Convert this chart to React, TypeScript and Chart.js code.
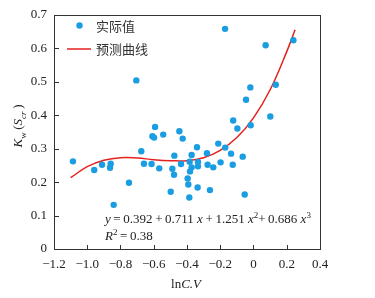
import React, { useEffect, useRef } from "react";
import { Chart, registerables } from "chart.js";

Chart.register(...registerables);

// Measured points: lnC.V (x) and Kw(Scr) (y)
const lnCV = [
  -1.086, -0.958, -0.911, -0.859, -0.863, -0.841, -0.749, -0.705, -0.675, -0.659,
  -0.613, -0.608, -0.598, -0.592, -0.567, -0.543, -0.498, -0.488, -0.478, -0.476,
  -0.446, -0.436, -0.426, -0.396, -0.392, -0.386, -0.384, -0.382, -0.372, -0.372,
  -0.34, -0.336, -0.334, -0.334, -0.28, -0.276, -0.262, -0.242, -0.212, -0.198,
  -0.171, -0.17, -0.135, -0.125, -0.122, -0.097, -0.065, -0.053, -0.045, -0.019,
  -0.017, 0.073, 0.101, 0.134, 0.24,
];
const kwValues = [
  0.262, 0.236, 0.252, 0.255, 0.243, 0.132, 0.198, 0.504, 0.292, 0.255,
  0.254, 0.337, 0.333, 0.365, 0.241, 0.342, 0.171, 0.24, 0.222, 0.279,
  0.352, 0.254, 0.33, 0.211, 0.193, 0.154, 0.261, 0.232, 0.244, 0.281,
  0.304, 0.184, 0.26, 0.247, 0.286, 0.252, 0.176, 0.244, 0.315, 0.259,
  0.658, 0.303, 0.285, 0.252, 0.384, 0.36, 0.276, 0.163, 0.446, 0.483,
  0.37, 0.609, 0.396, 0.491, 0.624,
];

// Fitted curve
const curveX = [-1.1, -1.0, -0.9, -0.8, -0.7, -0.6, -0.5, -0.4, -0.3, -0.2, -0.1, 0.0, 0.1, 0.2, 0.25];
const curveY = [0.213, 0.246, 0.265, 0.273, 0.272, 0.267, 0.264, 0.264, 0.273, 0.295, 0.333, 0.392, 0.476, 0.59, 0.655];

const xTickLabels = ["\u22121.2", "\u22121.0", "\u22120.8", "\u22120.6", "\u22120.4", "\u22120.2", "0", "0.2", "0.4"];
const yTickLabels = ["0", "0.1", "0.2", "0.3", "0.4", "0.5", "0.6", "0.7"];

const legendLabels = ["实际值", "预测曲线"];

const POINT_COLOR = "#1b9de2";
const LINE_COLOR = "#e3221d";
const AXIS_COLOR = "#333333";
const SERIF = "'Liberation Serif', 'Times New Roman', serif";
const CJK = "'Noto Sans CJK SC', sans-serif";

type Seg = { t: string; italic?: boolean; sup?: boolean; sub?: boolean };

function drawSegs(ctx: CanvasRenderingContext2D, segs: Seg[], x: number, y: number, size: number) {
  let cx = x;
  for (const s of segs) {
    const fs = s.sup || s.sub ? Math.round(size * 0.68) : size;
    ctx.font = `${s.italic ? "italic " : ""}${fs}px ${SERIF}`;
    const dy = s.sup ? -size * 0.38 : s.sub ? size * 0.28 : 0;
    ctx.fillText(s.t, cx, y + dy);
    cx += ctx.measureText(s.t).width;
  }
  return cx - x;
}

function measureSegs(ctx: CanvasRenderingContext2D, segs: Seg[], size: number) {
  let w = 0;
  for (const s of segs) {
    const fs = s.sup || s.sub ? Math.round(size * 0.68) : size;
    ctx.font = `${s.italic ? "italic " : ""}${fs}px ${SERIF}`;
    w += ctx.measureText(s.t).width;
  }
  return w;
}

const decorPlugin = {
  id: "decor",
  afterDraw(chart: any) {
    const { ctx, chartArea } = chart;
    const { left, right, top, bottom } = chartArea;
    const xs = chart.scales.x;
    const ys = chart.scales.y;
    ctx.save();
    // frame
    ctx.strokeStyle = AXIS_COLOR;
    ctx.lineWidth = 1;
    ctx.strokeRect(Math.round(left) + 0.5, Math.round(top) + 0.5, Math.round(right - left), Math.round(bottom - top));
    // inward ticks
    ctx.beginPath();
    xs.ticks.forEach((t: any) => {
      const px = Math.round(xs.getPixelForValue(t.value)) + 0.5;
      ctx.moveTo(px, bottom);
      ctx.lineTo(px, bottom - 4);
    });
    ys.ticks.forEach((t: any) => {
      const py = Math.round(ys.getPixelForValue(t.value)) + 0.5;
      ctx.moveTo(left, py);
      ctx.lineTo(left + 5, py);
    });
    ctx.stroke();

    // legend
    ctx.fillStyle = POINT_COLOR;
    ctx.beginPath();
    ctx.arc(79.5, 25.5, 3.2, 0, Math.PI * 2);
    ctx.fill();
    ctx.strokeStyle = LINE_COLOR;
    ctx.lineWidth = 1.5;
    ctx.beginPath();
    ctx.moveTo(67, 49);
    ctx.lineTo(91, 49);
    ctx.stroke();
    ctx.fillStyle = "#333";
    ctx.textBaseline = "middle";
    ctx.textAlign = "left";
    ctx.font = `13px ${CJK}`;
    ctx.fillText(legendLabels[0], 96, 26);
    ctx.fillText(legendLabels[1], 96, 49);

    // equation
    ctx.fillStyle = "#222";
    ctx.textBaseline = "alphabetic";
    const eq: Seg[] = [
      { t: "y", italic: true },
      { t: "\u2009=\u20090.392\u2009+\u20090.711 " },
      { t: "x", italic: true },
      { t: "\u2009+\u20091.251 " },
      { t: "x", italic: true },
      { t: "2", sup: true },
      { t: "+\u20090.686 " },
      { t: "x", italic: true },
      { t: "3", sup: true },
    ];
    drawSegs(ctx, eq, 105, 223, 13);
    const r2: Seg[] = [
      { t: "R", italic: true },
      { t: "2", sup: true },
      { t: "\u2009=\u20090.38" },
    ];
    drawSegs(ctx, r2, 105, 240, 13);

    // x axis title
    const xt: Seg[] = [{ t: "ln" }, { t: "C.V", italic: true }];
    const xw = measureSegs(ctx, xt, 13);
    drawSegs(ctx, xt, 186 - xw / 2, 288, 13);

    // y axis title (rotated)
    const yt: Seg[] = [
      { t: "K", italic: true },
      { t: "w", sub: true },
      { t: "\u2009(" },
      { t: "S", italic: true },
      { t: "cr", sub: true, italic: true },
      { t: "\u2009)" },
    ];
    ctx.save();
    ctx.translate(18, 126);
    ctx.rotate(-Math.PI / 2);
    const yw = measureSegs(ctx, yt, 13);
    drawSegs(ctx, yt, -yw / 2, 4, 13);
    ctx.restore();

    ctx.restore();
  },
};

export default function App() {
  const canvasRef = useRef<HTMLCanvasElement | null>(null);

  useEffect(() => {
    document.body.style.margin = "0";
    const canvas = canvasRef.current;
    if (!canvas) return;
    const points = lnCV.map((x, i) => ({ x, y: kwValues[i] }));
    const curve = curveX.map((x, i) => ({ x, y: curveY[i] }));
    const chart = new Chart(canvas, {
      type: "scatter",
      data: {
        datasets: [
          {
            type: "line",
            label: legendLabels[1],
            data: curve,
            borderColor: LINE_COLOR,
            borderWidth: 1.5,
            pointRadius: 0,
            tension: 0.4,
            fill: false,
            order: 2,
          } as any,
          {
            label: legendLabels[0],
            data: points,
            backgroundColor: POINT_COLOR,
            borderColor: POINT_COLOR,
            borderWidth: 0,
            pointRadius: 3.2,
            order: 1,
          },
        ],
      },
      options: {
        animation: false,
        responsive: true,
        maintainAspectRatio: false,
        layout: { padding: { top: 10, right: 55, left: 0, bottom: 0 } },
        plugins: { legend: { display: false }, tooltip: { enabled: false } },
        scales: {
          x: {
            type: "linear",
            min: -1.2,
            max: 0.4,
            grid: { display: false, drawTicks: false },
            border: { display: false },
            afterFit: (s: any) => {
              s.height = 49;
            },
            ticks: {
              stepSize: 0.2,
              autoSkip: false,
              maxRotation: 0,
              padding: 8,
              color: "#222",
              font: { family: SERIF, size: 13 },
              callback: (v: any) => xTickLabels[Math.round((Number(v) + 1.2) / 0.2)] ?? "",
            },
          },
          y: {
            type: "linear",
            min: 0,
            max: 0.7,
            grid: { display: false, drawTicks: false },
            border: { display: false },
            afterFit: (s: any) => {
              s.width = 54;
            },
            ticks: {
              stepSize: 0.1,
              padding: 7,
              color: "#222",
              font: { family: SERIF, size: 13 },
              callback: (v: any) => yTickLabels[Math.round(Number(v) / 0.1)] ?? "",
            },
          },
        },
      },
      plugins: [decorPlugin],
    });
    return () => chart.destroy();
  }, []);

  return (
    <div style={{ width: 375, height: 298, position: "relative" }}>
      <canvas ref={canvasRef} />
    </div>
  );
}
